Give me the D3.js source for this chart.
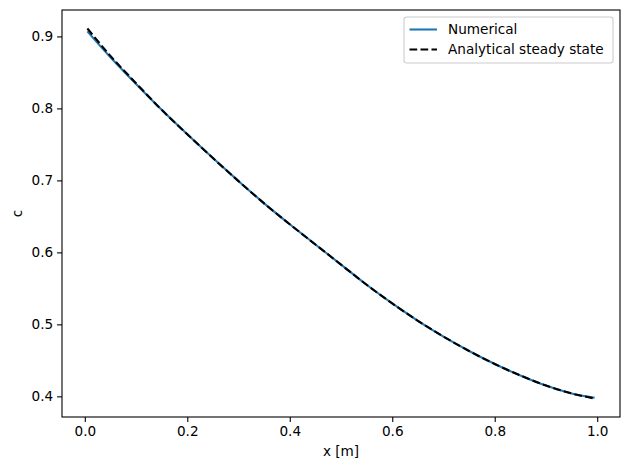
<!DOCTYPE html>
<html>
<head>
<meta charset="utf-8">
<script src="https://cdn.jsdelivr.net/npm/d3@7"></script>
<style>
  body { margin: 0; background: #fff; }
  text { font-family: "DejaVu Sans", sans-serif; }
</style>
</head>
<body>
<div id="chart"></div>
<script>
// positions along the domain [m]
var xs = [0.005, 0.05, 0.10, 0.15, 0.20, 0.25, 0.30, 0.35, 0.40, 0.45, 0.50,
          0.55, 0.60, 0.65, 0.70, 0.75, 0.80, 0.85, 0.90, 0.95, 0.995];

// numerical solution
var numerical = [0.907, 0.871, 0.834, 0.798, 0.764, 0.731, 0.699, 0.668, 0.639, 0.611, 0.583,
                 0.555, 0.529, 0.505, 0.483, 0.463, 0.445, 0.429, 0.415, 0.404, 0.398];

// analytical steady state
var analytical = [0.911, 0.873, 0.835, 0.798, 0.764, 0.731, 0.699, 0.668, 0.639, 0.611, 0.583,
                  0.555, 0.529, 0.505, 0.483, 0.463, 0.445, 0.429, 0.415, 0.404, 0.397];

var xTicks = [0.0, 0.2, 0.4, 0.6, 0.8, 1.0];
var yTicks = [0.4, 0.5, 0.6, 0.7, 0.8, 0.9];

var W = 630, H = 470;
var margin = {top: 10, right: 10, bottom: 53, left: 62};
var w = W - margin.left - margin.right;
var h = H - margin.top - margin.bottom;
var fs = "13.6px";

var svg = d3.select("#chart").append("svg")
    .attr("width", W)
    .attr("height", H);

var g = svg.append("g")
    .attr("transform", "translate(" + margin.left + "," + margin.top + ")");

// matplotlib style 5% autoscale margins
function padded(ext) {
    var p = (ext[1] - ext[0]) * 0.05;
    return [ext[0] - p, ext[1] + p];
}

var allY = numerical.concat(analytical);
var x = d3.scaleLinear().domain(padded(d3.extent(xs))).range([0, w]);
var y = d3.scaleLinear().domain(padded(d3.extent(allY))).range([h, 0]);

var xAxis = g.append("g")
    .attr("transform", "translate(0," + h + ")")
    .call(d3.axisBottom(x).tickValues(xTicks).tickFormat(d3.format(".1f"))
        .tickSizeInner(4.9).tickSizeOuter(0).tickPadding(4));

var yAxis = g.append("g")
    .call(d3.axisLeft(y).tickValues(yTicks).tickFormat(d3.format(".1f"))
        .tickSizeInner(4.9).tickSizeOuter(0).tickPadding(4));

[xAxis, yAxis].forEach(function (a) {
    a.select(".domain").remove();
    a.selectAll("line").attr("stroke", "#000").attr("stroke-width", 1.1);
    a.selectAll("text").attr("fill", "#000").style("font-size", fs);
});

var line = function (vals) {
    return d3.line()
        .x(function (d, i) { return x(xs[i]); })
        .y(function (d) { return y(d); })
        .curve(d3.curveMonotoneX)(vals);
};

g.append("path")
    .attr("d", line(numerical))
    .attr("fill", "none")
    .attr("stroke", "#1f77b4")
    .attr("stroke-width", 2.1);

g.append("path")
    .attr("d", line(analytical))
    .attr("fill", "none")
    .attr("stroke", "#000")
    .attr("stroke-width", 2.1)
    .attr("stroke-dasharray", "7.7,3.3");

// frame
g.append("rect")
    .attr("width", w)
    .attr("height", h)
    .attr("fill", "none")
    .attr("stroke", "#000")
    .attr("stroke-width", 1.1);

// axis labels
g.append("text")
    .attr("x", w / 2)
    .attr("y", h + 39)
    .attr("text-anchor", "middle")
    .style("font-size", fs)
    .text("x [m]");

g.append("text")
    .attr("transform", "translate(" + (-40) + "," + (h / 2) + ") rotate(-90)")
    .attr("text-anchor", "middle")
    .style("font-size", fs)
    .text("c");

// legend
var legendItems = [
    {label: "Numerical", color: "#1f77b4", dash: null},
    {label: "Analytical steady state", color: "#000", dash: "7.7,3.3"}
];

var lg = svg.append("g").attr("transform", "translate(404,17)");
lg.append("rect")
    .attr("width", 209)
    .attr("height", 46)
    .attr("rx", 2.5)
    .attr("fill", "#fff")
    .attr("fill-opacity", 0.8)
    .attr("stroke", "#cccccc")
    .attr("stroke-width", 1.1);

legendItems.forEach(function (d, i) {
    var yy = 12.5 + i * 20;
    lg.append("line")
        .attr("x1", 5.5).attr("x2", 33)
        .attr("y1", yy).attr("y2", yy)
        .attr("stroke", d.color)
        .attr("stroke-width", 2.1)
        .attr("stroke-dasharray", d.dash);
    lg.append("text")
        .attr("x", 44)
        .attr("y", yy)
        .attr("dy", "0.35em")
        .style("font-size", fs)
        .text(d.label);
});
</script>
</body>
</html>
